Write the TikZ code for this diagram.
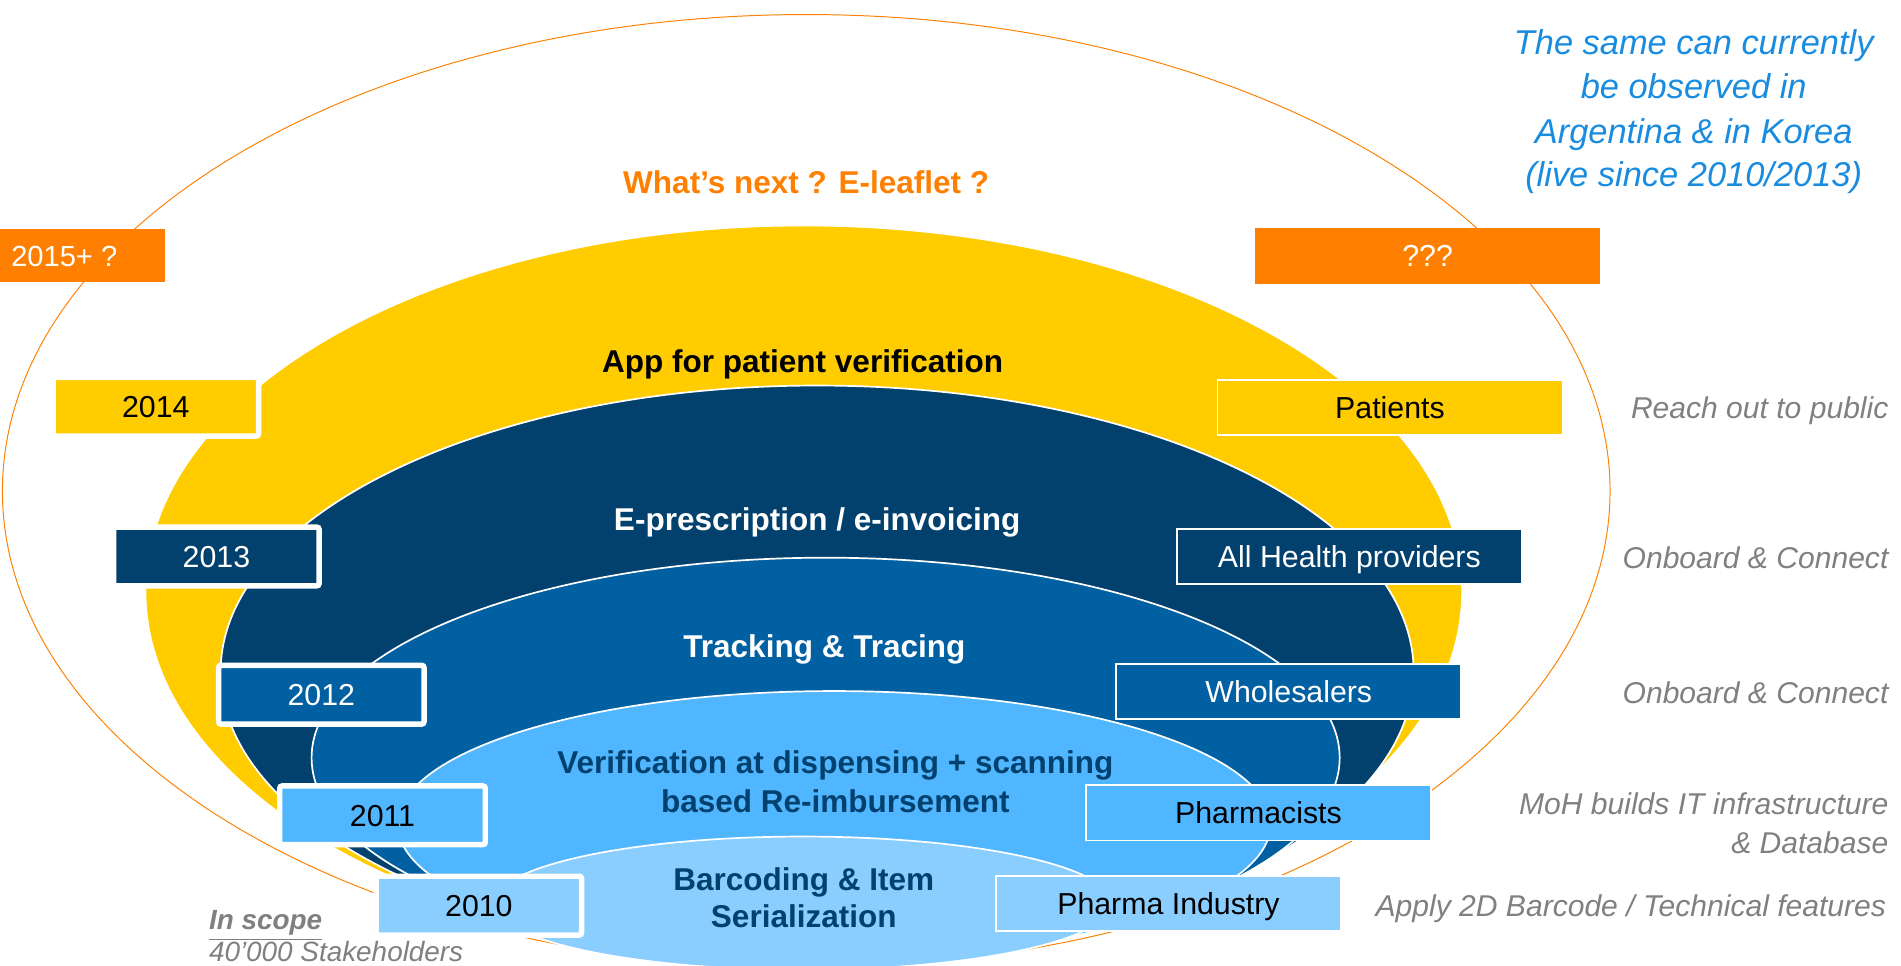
\documentclass[tikz,border=0pt]{standalone}
\usepackage{fontspec}
\setmainfont{Liberation Sans}
\definecolor{cOrange}{HTML}{FF8000}
\definecolor{cYellow}{HTML}{FFCC00}
\definecolor{cNavy}{HTML}{02416E}
\definecolor{cBlue}{HTML}{0060A2}
\definecolor{cLight}{HTML}{50B6FF}
\definecolor{cLighter}{HTML}{8ACEFF}
\definecolor{cGrey}{HTML}{808080}
\definecolor{cSky}{HTML}{1A8CE0}
\begin{document}
\begin{tikzpicture}[x=0.5pt,y=-0.5pt,
  ell/.style={draw=white, line width=0.7pt},
  lbl/.style={inner sep=0pt, font=\fontsize{12.5pt}{15pt}\selectfont, text height=8.95pt, text depth=0pt},
  yearbox/.style={lbl, rectangle, draw=white, line width=2.25pt, rounded corners=1pt, minimum width=84.75pt, minimum height=24.25pt},
  rolebox/.style={lbl, rectangle, draw=white, line width=0.75pt, minimum width=142.25pt, minimum height=22.75pt},
  orgbox/.style={lbl, rectangle, fill=cOrange, text=white},
  ttl/.style={inner sep=0pt, font=\bfseries\fontsize{13pt}{16pt}\selectfont, text height=9.3pt, text depth=0pt},
  note/.style={inner sep=0pt, anchor=east, text=cGrey, font=\itshape\fontsize{12.4pt}{15pt}\selectfont, text height=8.9pt, text depth=0pt},
  sky/.style={inner sep=0pt, text=cSky, font=\itshape\fontsize{14.2pt}{17pt}\selectfont, text height=10.2pt, text depth=0pt}]
\useasboundingbox (0,0) rectangle (1568,796);
\clip (0,0) rectangle (1568,796);

% outer orange ring
\draw[cOrange, line width=0.4pt] (665,405) ellipse [x radius=331.5pt, y radius=196.5pt];

% nested ellipses
\path[ell, fill=cYellow] (663,488) ellipse [x radius=271.5pt, y radius=151pt];
\path[ell, fill=cNavy] (674,554) ellipse [x radius=246pt, y radius=118pt];
\path[ell, fill=cBlue] (681,625) ellipse [x radius=212pt, y radius=82.5pt];
\path[ell, fill=cLight] (688,680) ellipse [x radius=180pt, y radius=55pt];
\path[ell, fill=cLighter] (662,745) ellipse [x radius=127.5pt, y radius=27.5pt];

% titles
\node[ttl, text=cOrange] (tNext) at (665,150) {What’s next ? E-leaflet ?};
\node[ttl, text=black] (tApp) at (662,298) {App for patient verification};
\node[ttl, text=white] (tEpre) at (674,428) {E-prescription / e-invoicing};
\node[ttl, text=white] (tTrack) at (680,533) {Tracking \& Tracing};
\node[ttl, text=cNavy] (tVer1) at (689,629) {Verification at dispensing + scanning};
\node[ttl, text=cNavy] (tVer2) at (689,661) {based Re-imbursement};
\node[ttl, text=cNavy] (tBar1) at (663,725) {Barcoding \& Item};
\node[ttl, text=cNavy] (tBar2) at (663,756) {Serialization};

% orange boxes
\node[orgbox, minimum width=83pt, minimum height=22pt, font=\fontsize{12pt}{14pt}\selectfont] (y2015) at (53,211) {2015+ ?};
\node[orgbox, minimum width=142.5pt, minimum height=23pt] (rNext) at (1177.5,211) {???};

% year boxes
\node[yearbox, fill=cYellow, text=black] (y2014) at (128.5,335.5) {2014};
\node[yearbox, fill=cNavy, text=white] (y2013) at (178.5,459) {2013};
\node[yearbox, fill=cBlue, text=white] (y2012) at (265,573) {2012};
\node[yearbox, fill=cLight, text=black] (y2011) at (315.5,672.5) {2011};
\node[yearbox, fill=cLighter, text=black] (y2010) at (395,747) {2010};

% role boxes
\node[rolebox, fill=cYellow, text=black] (rPat) at (1146.5,336) {Patients};
\node[rolebox, fill=cNavy, text=white] (rHealth) at (1113,459) {All Health providers};
\node[rolebox, fill=cBlue, text=white] (rWhole) at (1063,570.5) {Wholesalers};
\node[rolebox, fill=cLight, text=black] (rPharm) at (1038,670.5) {Pharmacists};
\node[rolebox, fill=cLighter, text=black] (rInd) at (963.8,745.3) {Pharma Industry};

% right notes
\node[note] (n1) at (1558,336) {Reach out to public};
\node[note] (n2) at (1558,460) {Onboard \& Connect};
\node[note] (n3) at (1558,571) {Onboard \& Connect};
\node[note] (n4a) at (1558,663) {MoH builds IT infrastructure};
\node[note] (n4b) at (1558,695) {\& Database};
\node[note] (n5) at (1556,747) {Apply 2D Barcode / Technical features};

% top right remark
\node[sky] (s1) at (1397,35) {The same can currently};
\node[sky] (s2) at (1397,71) {be observed in};
\node[sky] (s3) at (1397,108) {Argentina \& in Korea};
\node[sky] (s4) at (1397,144) {(live since 2010/2013)};

% scope
\node[inner sep=0pt, anchor=base west, text=cGrey, font=\bfseries\itshape\fontsize{11.5pt}{14pt}\selectfont] (scope) at (172,767) {\underline{In scope}};
\node[inner sep=0pt, anchor=base west, text=cGrey, font=\itshape\fontsize{11.5pt}{14pt}\selectfont] (stake) at (172,793) {40’000 Stakeholders};
\end{tikzpicture}
\end{document}
